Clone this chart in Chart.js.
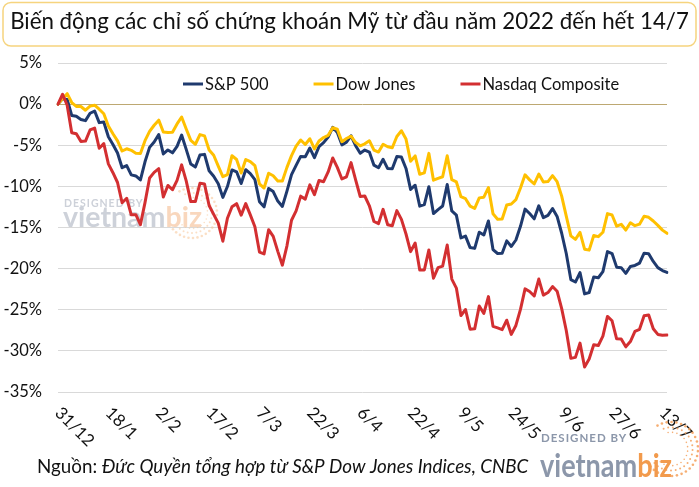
<!DOCTYPE html>
<html>
<head>
<meta charset="utf-8">
<script src="https://cdn.jsdelivr.net/npm/chart.js@4.4.1/dist/chart.umd.min.js"></script>
<style>
  html, body { margin: 0; padding: 0; background: #ffffff; }
  #wrap { width: 699px; height: 487px; position: relative; }
  canvas { display: block; }
</style>
</head>
<body>
<div id="wrap"><canvas id="chart" width="699" height="487"></canvas></div>
<script>
// ---------------- DATA ----------------
const titleText = 'Biến động các chỉ số chứng khoán Mỹ từ đầu năm 2022 đến hết 14/7';
const sourceLabel = 'Nguồn: ';
const sourceText = 'Đức Quyền tổng hợp từ S&P Dow Jones Indices, CNBC';
const seriesNames = ['S&P 500', 'Dow Jones', 'Nasdaq Composite'];

// trading days (categories)
const dates = [
  '31/12',
  '3/1','4/1','5/1','6/1','7/1','10/1','11/1','12/1','13/1','14/1','18/1','19/1','20/1','21/1','24/1','25/1','26/1','27/1','28/1','31/1',
  '1/2','2/2','3/2','4/2','7/2','8/2','9/2','10/2','11/2','14/2','15/2','16/2','17/2','18/2','22/2','23/2','24/2','25/2','28/2',
  '1/3','2/3','3/3','4/3','7/3','8/3','9/3','10/3','11/3','14/3','15/3','16/3','17/3','18/3','21/3','22/3','23/3','24/3','25/3','28/3','29/3','30/3','31/3',
  '1/4','4/4','5/4','6/4','7/4','8/4','11/4','12/4','13/4','14/4','18/4','19/4','20/4','21/4','22/4','25/4','26/4','27/4','28/4','29/4',
  '2/5','3/5','4/5','5/5','6/5','9/5','10/5','11/5','12/5','13/5','16/5','17/5','18/5','19/5','20/5','23/5','24/5','25/5','26/5','27/5','31/5',
  '1/6','2/6','3/6','6/6','7/6','8/6','9/6','10/6','13/6','14/6','15/6','16/6','17/6','21/6','22/6','23/6','24/6','27/6','28/6','29/6','30/6',
  '1/7','5/7','6/7','7/7','8/7','11/7','12/7','13/7','14/7'
];

// tick labels shown on the x axis
const tickLabels = ['31/12','18/1','2/2','17/2','7/3','22/3','6/4','22/4','9/5','24/5','9/6','27/6','13/7'];

// % change since 31/12/2021
const sp500 = [
  0,0.64,0.57,-1.38,-1.47,-1.87,-2.01,-1.11,-0.84,-2.25,-2.17,
  -3.97,-4.90,-5.95,-7.73,-7.47,-8.60,-8.73,-9.22,-7.01,-5.26,
  -4.61,-3.71,-6.06,-5.57,-5.92,-5.13,-3.76,-5.50,-7.29,-7.65,
  -6.19,-6.11,-8.10,-8.76,-9.68,-11.34,-10.02,-8.00,-8.23,-9.65,
  -7.97,-8.45,-9.18,-11.86,-12.49,-10.25,-10.63,-11.79,-12.44,-10.57,
  -8.57,-7.44,-6.36,-6.40,-5.34,-6.50,-5.16,-4.68,-4.00,-2.82,
  -3.44,-4.95,-4.62,-3.85,-5.06,-5.98,-5.58,-5.83,-7.42,-7.74,
  -6.71,-7.84,-7.86,-6.38,-6.44,-7.82,-10.37,-9.86,-12.40,-12.22,
  -10.04,-13.31,-12.82,-12.39,-9.78,-12.99,-13.49,-16.26,-16.05,-17.44,
  -17.54,-15.57,-15.91,-14.21,-17.68,-18.16,-18.14,-16.63,-17.30,-16.52,
  -14.86,-12.76,-13.30,-13.95,-12.37,-13.80,-13.53,-12.70,-13.65,-15.70,
  -18.16,-21.33,-21.63,-20.48,-23.07,-22.90,-21.01,-21.11,-20.36,-17.93,
  -18.17,-19.82,-19.88,-20.58,-19.74,-19.61,-19.33,-18.12,-18.19,-19.13,
  -19.88,-20.23,-20.47
];

const dowJones = [
  0,0.68,1.27,0.19,-0.28,-0.29,-0.74,-0.24,-0.13,-0.62,-1.17,
  -2.67,-3.60,-4.47,-5.70,-5.43,-5.62,-5.97,-5.99,-4.44,-3.32,
  -2.57,-1.95,-3.38,-3.44,-3.43,-2.41,-1.57,-3.02,-4.40,-4.88,
  -3.71,-3.86,-5.58,-6.22,-7.54,-8.82,-8.57,-6.27,-6.73,-8.38,
  -6.73,-7.00,-7.49,-9.69,-10.20,-8.40,-8.71,-9.34,-9.34,-7.69,
  -6.26,-5.11,-4.36,-4.91,-4.21,-5.45,-4.49,-4.06,-3.80,-2.87,
  -3.05,-4.57,-4.18,-3.90,-4.67,-5.07,-4.83,-4.45,-5.59,-5.83,
  -4.88,-5.19,-5.30,-3.93,-3.24,-4.25,-6.95,-6.30,-8.53,-8.36,
  -5.99,-9.25,-9.02,-8.83,-6.27,-9.19,-9.46,-11.26,-11.50,-12.40,
  -12.68,-11.40,-11.32,-10.14,-13.34,-13.99,-13.97,-12.27,-12.14,-11.61,
  -10.19,-8.60,-9.21,-9.70,-8.50,-9.46,-9.42,-8.69,-9.43,-11.19,
  -13.61,-16.02,-16.44,-15.60,-17.64,-17.75,-15.98,-16.11,-15.58,-13.31,
  -13.48,-14.84,-14.61,-15.31,-14.42,-14.78,-14.59,-13.63,-13.76,-14.21,
  -14.74,-15.32,-15.71
];

const nasdaq = [
  0,1.20,-0.14,-3.48,-3.61,-4.53,-4.49,-3.14,-2.92,-5.36,-4.80,
  -7.27,-8.34,-9.53,-11.99,-11.44,-13.46,-13.44,-14.65,-11.98,-8.98,
  -8.30,-7.85,-11.29,-9.89,-10.41,-9.27,-7.38,-9.33,-11.85,-11.85,
  -9.62,-9.72,-12.33,-13.40,-14.47,-16.67,-13.88,-12.47,-12.10,-13.50,
  -12.10,-13.47,-14.90,-17.99,-18.21,-15.27,-16.08,-17.90,-19.58,-17.23,
  -14.12,-12.98,-11.19,-11.55,-9.82,-11.01,-9.29,-9.43,-8.25,-6.55,
  -7.69,-9.10,-8.84,-7.11,-9.21,-11.23,-11.17,-12.36,-14.27,-14.53,
  -12.79,-14.66,-14.78,-12.95,-14.01,-15.79,-17.93,-16.88,-20.16,-20.17,
  -17.73,-21.16,-19.87,-19.69,-17.13,-21.27,-22.37,-25.71,-24.97,-27.36,
  -27.32,-24.54,-25.45,-23.40,-27.02,-27.21,-27.42,-26.27,-28.00,-26.91,
  -24.96,-22.46,-22.78,-23.33,-21.27,-23.22,-22.91,-22.18,-22.75,-24.87,
  -27.52,-30.91,-30.79,-29.06,-31.95,-30.98,-29.25,-29.35,-28.21,-25.81,
  -26.34,-28.53,-28.55,-29.51,-28.87,-27.63,-27.38,-25.72,-25.63,-27.31,
  -28.00,-28.11,-28.08
];

const yMin = -35, yMax = 5, yStep = 5;

// ---------------- STYLE ----------------
const FONT = 'Lato, "Open Sans", "DejaVu Sans", sans-serif';
const colors = { sp: '#1f3a6e', dow: '#ffc000', nas: '#d32f31' };
const gridColor = '#d9d9d9';
const zeroColor = '#bda872';
const textColor = '#111111';

const titleSize = 22.3;
const footSize = 18.8;
const legendSize = 16.5;
const titlePadTop = 22 - 0.6 * titleSize;
const titlePadBottom = 63 - titlePadTop - 1.2 * titleSize;

// ---------------- CUSTOM SCALE (labels slanting downward) ----------------
const BaseCat = Chart.CategoryScale || Chart.registry.getScale('category');
let xType = 'category';
try {
  class SlantCategoryScale extends BaseCat {
    _getXAxisLabelAlignment() { return 'left'; }
  }
  SlantCategoryScale.id = 'slantCategory';
  SlantCategoryScale.defaults = BaseCat.defaults;
  Chart.register(SlantCategoryScale);
  xType = 'slantCategory';
} catch (e) { xType = 'category'; }

// ---------------- DRAW HELPERS ----------------
function roundRectPath(ctx, x, y, w, h, r) {
  ctx.beginPath();
  ctx.moveTo(x + r, y);
  ctx.lineTo(x + w - r, y);
  ctx.arcTo(x + w, y, x + w, y + r, r);
  ctx.lineTo(x + w, y + h - r);
  ctx.arcTo(x + w, y + h, x + w - r, y + h, r);
  ctx.lineTo(x + r, y + h);
  ctx.arcTo(x, y + h, x, y + h - r, r);
  ctx.lineTo(x, y + r);
  ctx.arcTo(x, y, x + r, y, r);
  ctx.closePath();
}
function dotRing(ctx, cx, cy, r, a0, a1, n, dr, color) {
  ctx.fillStyle = color;
  for (let i = 0; i <= n; i++) {
    const a = (a0 + (a1 - a0) * i / n) * Math.PI / 180;
    ctx.beginPath();
    ctx.arc(cx + r * Math.cos(a), cy + r * Math.sin(a), dr, 0, Math.PI * 2);
    ctx.fill();
  }
}
function drawLogo(ctx, x, yTop, yBase, width, big, small, cGray, cBiz, cRing, ringC, ringR) {
  ctx.save();
  ctx.textAlign = 'left';
  ctx.textBaseline = 'alphabetic';
  dotRing(ctx, ringC[0], ringC[1], ringR, -120, 150, 26, 1.3, cRing);
  dotRing(ctx, ringC[0], ringC[1], ringR * 0.8, -110, 140, 20, 1.0, cRing);
  dotRing(ctx, ringC[0], ringC[1], ringR * 0.62, -100, 130, 15, 0.8, cRing);
  ctx.fillStyle = cGray;
  ctx.font = 'bold ' + small + 'px ' + FONT;
  try { ctx.letterSpacing = '1px'; } catch (e) {}
  ctx.fillText('DESIGNED BY', x + 1, yTop);
  try { ctx.letterSpacing = '0px'; } catch (e) {}
  ctx.font = 'bold ' + big + 'px ' + FONT;
  const w1 = ctx.measureText('vietnam').width;
  const w2 = ctx.measureText('biz').width;
  const sx = width / (w1 + w2);
  ctx.translate(x, yBase);
  ctx.scale(sx, 1);
  ctx.fillStyle = cGray;
  ctx.fillText('vietnam', 0, 0);
  ctx.fillStyle = cBiz;
  ctx.fillText('biz', w1, 0);
  ctx.restore();
}

const decor = {
  id: 'decor',
  beforeDraw(chart) {
    const ctx = chart.ctx;
    ctx.save();
    ctx.fillStyle = '#ffffff';
    ctx.fillRect(0, 0, chart.width, chart.height);
    ctx.strokeStyle = '#f6d47e';
    ctx.lineWidth = 1.5;
    roundRectPath(ctx, 3, 2.5, 693, 43.5, 8);
    ctx.stroke();
    ctx.restore();
  },
  beforeDatasetsDraw(chart) {
    const ctx = chart.ctx;
    drawLogo(ctx, 63, 207, 227, 139, 28, 10.5, '#cdd1d9', '#f9d7bd', 'rgba(247,196,150,0.55)', [192, 213], 25);
  },
  afterDraw(chart) {
    const ctx = chart.ctx;
    const area = chart.chartArea;
    ctx.save();
    // legend (inside plot area)
    ctx.font = legendSize + 'px ' + FONT;
    ctx.textAlign = 'left';
    ctx.textBaseline = 'middle';
    let lx = area.left + 125;
    const ly = area.top + 21;
    chart.data.datasets.forEach(d => {
      ctx.strokeStyle = d.borderColor;
      ctx.lineWidth = 3;
      ctx.beginPath();
      ctx.moveTo(lx, ly);
      ctx.lineTo(lx + 20, ly);
      ctx.stroke();
      ctx.fillStyle = textColor;
      ctx.fillText(d.label, lx + 22, ly + 1);
      lx += 22 + ctx.measureText(d.label).width + 45;
    });
    // source footer
    ctx.textBaseline = 'alphabetic';
    ctx.fillStyle = textColor;
    ctx.font = footSize + 'px ' + FONT;
    ctx.fillText(sourceLabel, 37, 473);
    const w = ctx.measureText(sourceLabel).width;
    ctx.font = 'italic ' + footSize + 'px ' + FONT;
    ctx.fillText(sourceText, 37 + w, 473);
    ctx.restore();
    // bottom-right logo
    drawLogo(ctx, 540, 442, 477, 132, 32, 11.5, '#8c97aa', '#f29a4c', 'rgba(244,160,90,0.85)', [671, 449], 27);
  }
};

// ---------------- CHART ----------------
new Chart(document.getElementById('chart'), {
  type: 'line',
  data: {
    labels: dates,
    datasets: [
      { label: seriesNames[0], data: sp500, borderColor: colors.sp, order: 2, yAxisID: 'y' },
      { label: seriesNames[1], data: dowJones, borderColor: colors.dow, order: 1, yAxisID: 'y' },
      { label: seriesNames[2], data: nasdaq, borderColor: colors.nas, order: 0, yAxisID: 'y' }
    ].map(d => Object.assign(d, {
      borderWidth: 3, pointRadius: 0, pointHoverRadius: 0, tension: 0, fill: false,
      borderJoinStyle: 'round', borderCapStyle: 'round'
    }))
  },
  options: {
    responsive: false,
    animation: false,
    devicePixelRatio: 1,
    layout: { padding: { left: 0, right: 0, top: 0, bottom: 35 } },
    plugins: {
      legend: { display: false },
      tooltip: { enabled: false },
      title: {
        display: true,
        text: titleText,
        color: textColor,
        font: { family: FONT, size: titleSize, weight: 'normal', lineHeight: 1.2 },
        padding: { top: titlePadTop, bottom: titlePadBottom }
      }
    },
    scales: {
      x: {
        type: xType,
        offset: false,
        grid: { display: false, drawTicks: false },
        border: { display: false },
        ticks: {
          autoSkip: false,
          minRotation: -45,
          maxRotation: -45,
          padding: 11,
          color: textColor,
          font: { family: FONT, size: 17 },
          callback: function (value, index) {
            const d = dates[index];
            return tickLabels.includes(d) ? d : '';
          }
        },
        afterFit: s => { s.height = 60; }
      },
      y: {
        position: 'left',
        min: yMin,
        max: yMax,
        grid: {
          drawTicks: false,
          lineWidth: 1,
          color: c => (c.tick && c.tick.value === 0) ? zeroColor : gridColor
        },
        border: { display: false },
        ticks: {
          stepSize: yStep,
          padding: 16,
          color: textColor,
          font: { family: FONT, size: 16.5 },
          callback: v => v + '%'
        },
        afterFit: s => { s.width = 58; }
      },
      yPad: {
        position: 'right',
        display: true,
        min: yMin,
        max: yMax,
        grid: { display: false, drawTicks: false },
        border: { display: false },
        ticks: { display: false },
        afterFit: s => { s.width = 32; }
      }
    }
  },
  plugins: [decor]
});
</script>
</body>
</html>
